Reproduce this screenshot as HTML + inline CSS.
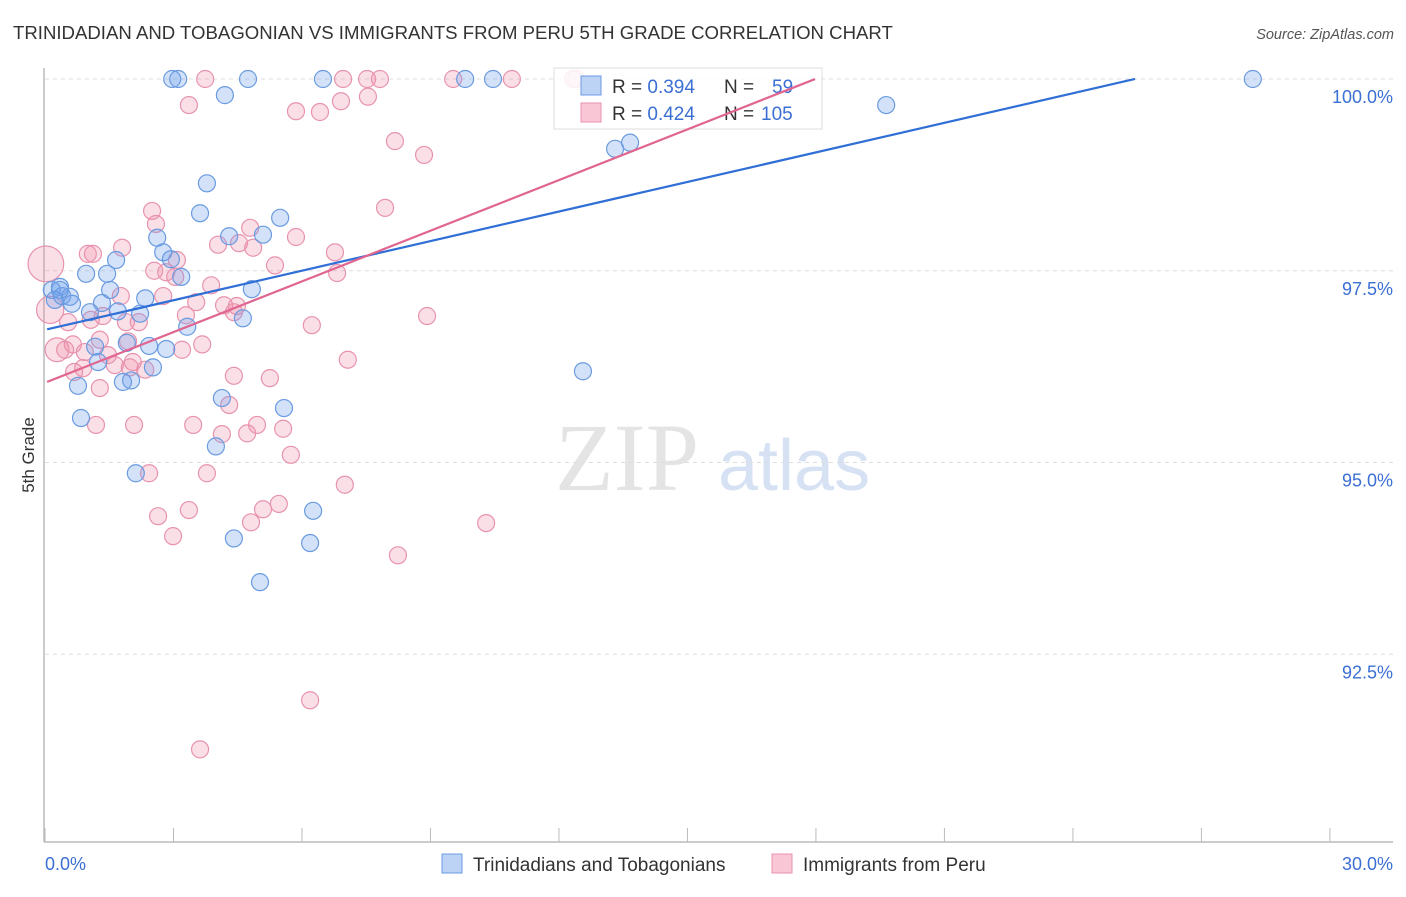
<!DOCTYPE html>
<html><head><meta charset="utf-8"><style>
body{margin:0;background:#fff;font-family:"Liberation Sans",sans-serif}
</style></head><body>
<svg width="1406" height="892" xmlns="http://www.w3.org/2000/svg" font-family="Liberation Sans, sans-serif">
<text x="13" y="39" font-size="18.6" fill="#333">TRINIDADIAN AND TOBAGONIAN VS IMMIGRANTS FROM PERU 5TH GRADE CORRELATION CHART</text>
<text x="1394" y="39" font-size="14.5" fill="#555" text-anchor="end" font-style="italic">Source: ZipAtlas.com</text>
<text x="555" y="490" font-size="96" fill="#e4e4e4" font-family="Liberation Serif, serif">ZIP</text>
<text x="718" y="490" font-size="72" fill="#d6e2f3">atlas</text>
<text transform="translate(34,455) rotate(-90)" font-size="17" fill="#333" text-anchor="middle">5th Grade</text>
<g id="grid"></g><g id="pts"></g>
<g>
<rect x="554" y="68" width="268" height="61" fill="#fff" fill-opacity="0.85" stroke="#ddd"/>
<rect x="581" y="76" width="20" height="19" fill="#bcd3f5" stroke="#6a9be0"/>
<rect x="581" y="103" width="20" height="19" fill="#f9c6d5" stroke="#e893ae"/>
<text x="612" y="93" font-size="19" fill="#333">R = <tspan fill="#3b6fd4">0.394</tspan></text>
<text x="724" y="93" font-size="19" fill="#333">N =</text>
<text x="772" y="93" font-size="19" fill="#3b6fd4">59</text>
<text x="612" y="120" font-size="19" fill="#333">R = <tspan fill="#3b6fd4">0.424</tspan></text>
<text x="724" y="120" font-size="19" fill="#333">N =</text>
<text x="761" y="120" font-size="19" fill="#3b6fd4">105</text>
</g>
<g id="lines"></g>
<g>
<rect x="442" y="854" width="20" height="19" fill="#bcd3f5" stroke="#6a9be0"/>
<text x="473" y="871" font-size="19" fill="#333">Trinidadians and Tobagonians</text>
<rect x="772" y="854" width="20" height="19" fill="#f9c6d5" stroke="#e893ae"/>
<text x="803" y="871" font-size="19" fill="#333">Immigrants from Peru</text>
</g>
<text x="45" y="870" font-size="18" fill="#3b6fd4">0.0%</text>
<text x="1393" y="870" font-size="18" fill="#3b6fd4" text-anchor="end">30.0%</text>
</svg>
<script>
const yTicks=[100,97.5,95,92.5];
const yTickLabels=["100.0%","97.5%","95.0%","92.5%"];
const xTicks=[0,3,6,9,12,15,18,21,24,27,30];
const blueX=[2.97,3.11,4.74,6.49,9.81,10.46,28.2,4.20,19.64,13.31,13.66,3.78,3.62,5.49,5.09,4.30,2.62,2.76,1.66,2.94,0.96,1.45,3.18,4.83,0.35,0.16,0.40,0.58,1.52,2.34,1.33,0.63,1.05,1.70,2.22,4.62,3.32,2.43,1.17,1.91,2.83,1.24,2.52,1.82,2.01,0.77,12.56,4.13,5.58,0.84,3.99,2.12,6.26,4.41,6.19,5.02,0.35,0.23];
const blueY=[100,100,100,100,100,100,100,99.79,99.66,99.09,99.17,98.64,98.25,98.19,97.97,97.95,97.93,97.74,97.64,97.65,97.46,97.46,97.42,97.26,97.29,97.25,97.17,97.16,97.25,97.14,97.08,97.07,96.96,96.97,96.94,96.88,96.77,96.52,96.51,96.56,96.48,96.31,96.24,96.05,96.07,96.0,96.19,95.84,95.71,95.58,95.21,94.86,94.37,94.01,93.95,93.44,97.25,97.12];
const pinkX=[0.02,0.12,0.28,3.74,6.96,7.52,7.82,9.53,10.9,12.33,12.4,3.36,5.86,6.42,6.91,7.54,8.17,8.85,2.50,2.59,7.94,4.79,5.86,4.04,4.53,4.86,6.77,1.12,1.0,1.80,2.55,2.83,3.08,3.04,3.88,5.37,6.82,1.77,2.76,3.53,4.18,4.48,4.41,3.29,1.35,1.07,0.54,1.89,2.19,6.23,8.92,1.94,3.67,3.20,1.47,0.93,0.65,0.47,1.63,2.05,2.34,1.98,0.68,0.89,7.07,4.41,5.25,1.28,4.30,1.19,2.08,3.46,4.13,4.72,4.95,5.56,5.74,2.43,3.78,7.0,2.64,3.36,4.81,5.09,5.46,10.3,2.99,8.24,6.19,3.62,1.28];
const pinkY=[97.59,96.99,96.47,100,100,100,100,100,100,100,100,99.66,99.58,99.57,99.71,99.77,99.19,99.01,98.28,98.11,98.32,98.06,97.94,97.84,97.86,97.80,97.74,97.72,97.72,97.80,97.50,97.48,97.64,97.42,97.31,97.57,97.47,97.17,97.17,97.09,97.05,97.04,96.96,96.92,96.91,96.86,96.83,96.83,96.83,96.79,96.91,96.58,96.54,96.47,96.40,96.44,96.54,96.47,96.27,96.31,96.21,96.24,96.18,96.23,96.34,96.13,96.10,95.97,95.75,95.49,95.49,95.49,95.37,95.38,95.49,95.44,95.10,94.86,94.86,94.71,94.30,94.38,94.22,94.39,94.46,94.21,94.04,93.79,91.90,91.26,96.60];
const pinkSize=[2.1,1.6,1.4];
const trendIntercept=[96.73,96.04];
const trendSlope=[0.1285,0.2202];
const trendEnd=[25.45,17.98];
const NS="http://www.w3.org/2000/svg";
const X=v=>45+v*42.83, Y=v=>79+(100-v)*76.7;
function mk(t,a,p){const e=document.createElementNS(NS,t);for(const k in a)e.setAttribute(k,a[k]);p.appendChild(e);return e;}
const grid=document.getElementById('grid');
yTicks.forEach((t,i)=>{
 const l=mk('line',{x1:45,x2:1393,y1:Y(t),y2:Y(t),stroke:'#ddd','stroke-dasharray':'4,4'},grid);
 
 
 const tx=mk('text',{x:1393,y:Y(t)+24,'font-size':18,fill:'#3b6fd4','text-anchor':'end'},grid);
 tx.textContent=yTickLabels[i];
 
 
});
const ax=mk('line',{x1:44,x2:44,y1:68,y2:842,stroke:'#bbb','stroke-width':1.5},grid);


const bx=mk('line',{x1:44,x2:1393,y1:842,y2:842,stroke:'#bbb','stroke-width':1.5},grid);


xTicks.forEach(t=>{
 const l=mk('line',{x1:X(t),x2:X(t),y1:828,y2:842,stroke:'#bbb'},grid);
 
 
});
const pts=document.getElementById('pts');
pinkX.forEach((v,i)=>{
 const r=8.5*(pinkSize[i]||1);
 const c=mk('circle',{cx:X(v),cy:Y(pinkY[i]),r:r,fill:'rgba(240,140,170,0.28)',stroke:'#e893ae','stroke-width':1.2},pts);
 
 
});
blueX.forEach((v,i)=>{
 const c=mk('circle',{cx:X(v),cy:Y(blueY[i]),r:8.5,fill:'rgba(110,160,235,0.3)',stroke:'#6a9be0','stroke-width':1.2},pts);
 
 
});
const lines=document.getElementById('lines');
const cols=['#2f6fd6','#e06590'];
const names=['trinidadian-trend-line','peru-trend-line'];
trendIntercept.forEach((b,i)=>{
 const l=mk('line',{x1:X(0.05),y1:Y(b+trendSlope[i]*0.05),x2:X(trendEnd[i]),y2:Y(b+trendSlope[i]*trendEnd[i]),stroke:cols[i],'stroke-width':2.2},lines);
 
 
});
</script>
</body></html>
